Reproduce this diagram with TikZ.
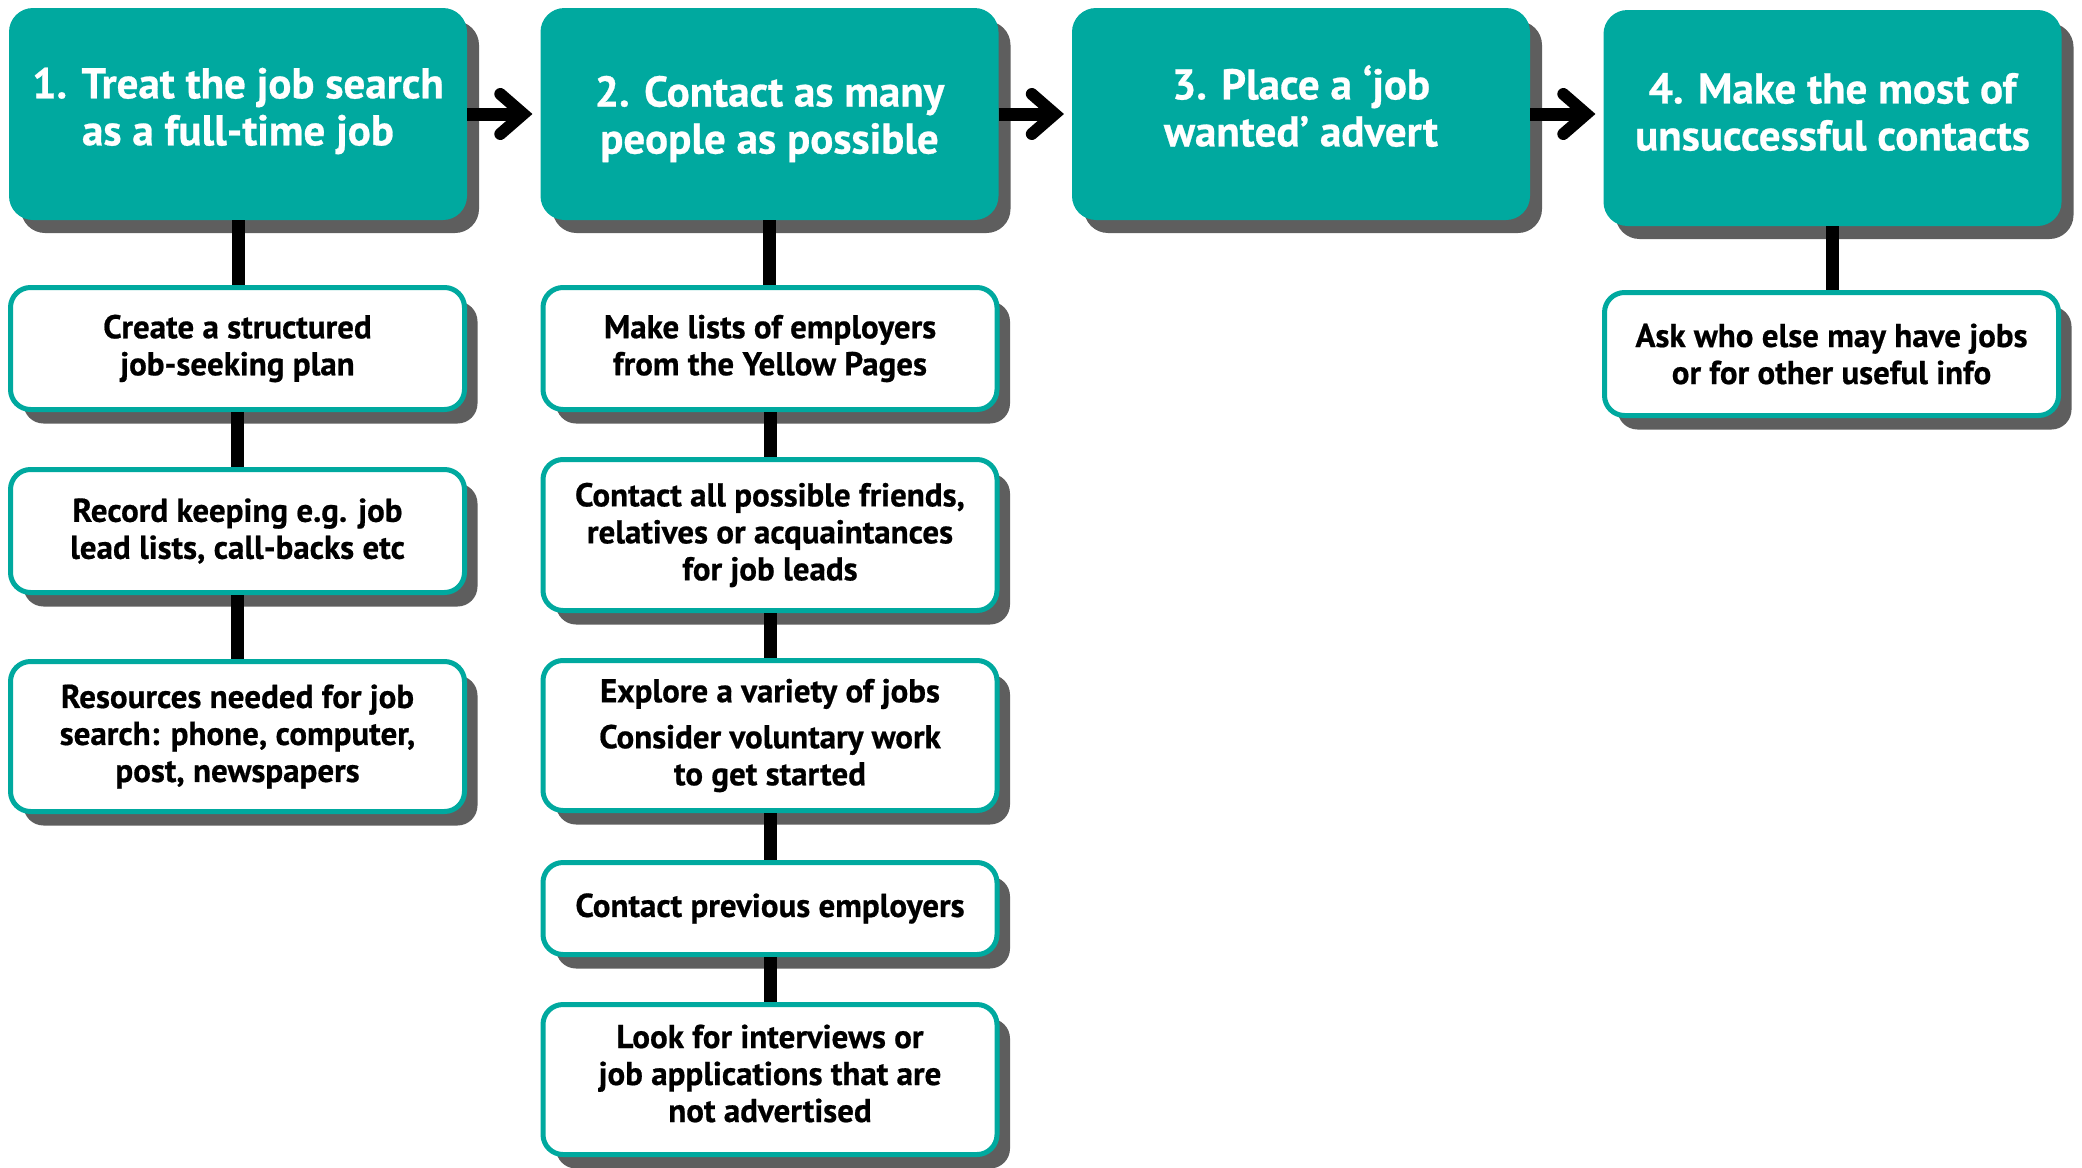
\documentclass[tikz,border=0pt]{standalone}
\usepackage{fontspec}
\setmainfont{PT Sans}[BoldFeatures={FakeBold=0.6}]
\usetikzlibrary{shadows}
\definecolor{teal1}{HTML}{00A99F}
\definecolor{shgray}{HTML}{5E5E5E}
\begin{document}
\begin{tikzpicture}[x=1pt,y=1pt,
  head/.style={fill=teal1, rounded corners=24pt, minimum width=458pt, minimum height=212pt,
    inner sep=0pt,
    general shadow={fill=shgray, shadow xshift=12pt, shadow yshift=-13pt}},
  headtxt/.style={text=white, font=\fontsize{43}{47}\selectfont\bfseries, align=center, inner sep=0pt},
  sub/.style={draw=teal1, line width=5pt, fill=white, rounded corners=20pt, minimum width=454pt,
    text=black, font=\fontsize{33}{37}\selectfont\bfseries, align=center, inner sep=0pt,
    general shadow={fill=shgray, shadow xshift=13pt, shadow yshift=-14pt}},
  vline/.style={line width=13pt},
  shaft/.style={line width=13pt},
  chev/.style={line width=12pt, line cap=round, line join=miter}
]
\useasboundingbox (0,0) rectangle (2082,-1167);
% headers
\node[head] (h1) at (238,-114) {};
\node[head] (h2) at (769.5,-114) {};
\node[head] (h3) at (1301,-114) {};
\node[head, minimum height=216pt] (h4) at (1832.5,-118) {};
\node[headtxt] (h1t) at ([yshift=3pt]h1.center) {1. Treat the job search\\as a full-time job};
\node[headtxt] (h2t) at ([yshift=-5pt]h2.center) {2. Contact as many\\people as possible};
\node[headtxt] (h3t) at ([yshift=8pt]h3.center) {3. Place a ‘job\\wanted’ advert};
\node[headtxt] (h4t) at ([yshift=6pt]h4.center) {4. Make the most of\\unsuccessful contacts};
% sub boxes
\node[sub, minimum height=122pt] (b1a) at (237.5,-348.5) {Create a structured\\job-seeking plan};
\node[sub, minimum height=123pt] (b1b) at (237.5,-531) {Record keeping e.g. job\\lead lists, call-backs etc};
\node[sub, minimum height=150pt] (b1c) at (237.5,-736.5) {Resources needed for job\\search: phone, computer,\\post, newspapers};
\node[sub, minimum height=122pt] (b2a) at (770,-348.5) {Make lists of employers\\from the Yellow Pages};
\node[sub, minimum height=151pt] (b2b) at (770,-535) {Contact all possible friends,\\relatives or acquaintances\\for job leads};
\node[sub, minimum height=150pt] (b2c) at (770,-735.5) {Explore a variety of jobs\\[9pt]Consider voluntary work\\to get started};
\node[sub, minimum height=92pt] (b2d) at (770,-908.5) {Contact previous employers};
\node[sub, minimum height=150pt] (b2e) at (770,-1079.5) {};
\node[font=\fontsize{33}{37}\selectfont\bfseries, align=center, inner sep=0pt] (b2et) at ([yshift=6pt]b2e.center) {Look for interviews or\\job applications that are\\not advertised};
\node[sub, minimum height=123pt] (b4a) at (1831.5,-354) {Ask who else may have jobs\\or for other useful info};
% vertical connectors
\draw[vline] (h1.south) -- (h1.south |- b1a.north);
\draw[vline] (b1a.south) -- (b1a.south |- b1b.north);
\draw[vline] (b1b.south) -- (b1b.south |- b1c.north);
\draw[vline] (h2.south) -- (h2.south |- b2a.north);
\draw[vline] (b2a.south) -- (b2a.south |- b2b.north);
\draw[vline] (b2b.south) -- (b2b.south |- b2c.north);
\draw[vline] (b2c.south) -- (b2c.south |- b2d.north);
\draw[vline] (b2d.south) -- (b2d.south |- b2e.north);
\draw[vline] (h4.south) -- (h4.south |- b4a.north);
% arrows between headers
\coordinate (t1) at (h1.east -| h2.west);
\coordinate (t2) at (h2.east -| h3.west);
\coordinate (t3) at (h3.east -| h4.west);
\draw[shaft] (h1.east) -- ([xshift=-18pt]t1);
\draw[chev] ([xshift=-40pt,yshift=20pt]t1) -- ([xshift=-17pt]t1) -- ([xshift=-40pt,yshift=-20pt]t1);
\draw[shaft] (h2.east) -- ([xshift=-18pt]t2);
\draw[chev] ([xshift=-40pt,yshift=20pt]t2) -- ([xshift=-17pt]t2) -- ([xshift=-40pt,yshift=-20pt]t2);
\draw[shaft] (h3.east) -- ([xshift=-18pt]t3);
\draw[chev] ([xshift=-40pt,yshift=20pt]t3) -- ([xshift=-17pt]t3) -- ([xshift=-40pt,yshift=-20pt]t3);
\end{tikzpicture}
\end{document}
